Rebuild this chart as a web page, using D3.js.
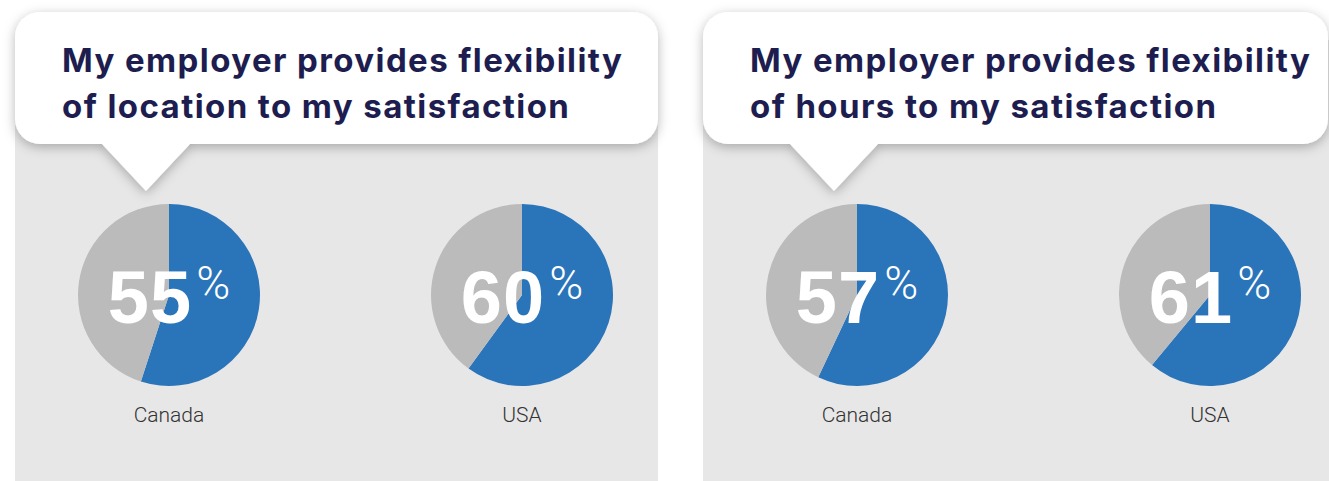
<!DOCTYPE html>
<html>
<head>
<meta charset="utf-8">
<script src="https://cdn.jsdelivr.net/npm/d3@7"></script>
<style>
  html, body { margin: 0; padding: 0; background: #ffffff; }
  svg { display: block; }
</style>
</head>
<body>
<svg id="chart" width="1329" height="481"></svg>
<script>
// Survey results: share of employees satisfied with workplace flexibility
const panelTitles = [
  ["My employer provides flexibility", "of location to my satisfaction"],
  ["My employer provides flexibility", "of hours to my satisfaction"]
];
const countries = ["Canada", "USA"];
const locationValues = [55, 60];
const hoursValues = [57, 61];
const panelValues = [locationValues, hoursValues];

const W = 1329, H = 481;
const svg = d3.select("#chart");

const blue = "#2a74ba";
const rest = "#bbbbbb";
const panelBg = "#e7e7e7";
const titleColor = "#1d1d4f";

// Drop shadow for the speech bubbles
const defs = svg.append("defs");
const f = defs.append("filter").attr("id", "bubbleShadow")
  .attr("x", "-10%").attr("y", "-30%").attr("width", "120%").attr("height", "160%");
f.append("feDropShadow").attr("dx", 0).attr("dy", 3)
  .attr("stdDeviation", 6).attr("flood-color", "#000").attr("flood-opacity", 0.28);

// Panel placement
const panelX = d3.scaleOrdinal().domain([0, 1]).range([15, 703]);
const panelW = [643, 640];
const pieX = d3.scalePoint().domain(countries).range([154, 507]);
const pieY = 295;
const radius = 91;

const pie = d3.pie().sort(null).value(d => d.v);
const arc = d3.arc().innerRadius(0).outerRadius(radius);

function bubblePath(x0, y0, x1, y1, r, pL, pR, tipX, tipY) {
  const p = d3.path();
  p.moveTo(x0 + r, y0);
  p.lineTo(x1 - r, y0);
  p.arcTo(x1, y0, x1, y0 + r, r);
  p.lineTo(x1, y1 - r);
  p.arcTo(x1, y1, x1 - r, y1, r);
  p.lineTo(pR, y1);
  p.lineTo(tipX, tipY);
  p.lineTo(pL, y1);
  p.lineTo(x0 + r, y1);
  p.arcTo(x0, y1, x0, y1 - r, r);
  p.lineTo(x0, y0 + r);
  p.arcTo(x0, y0, x0 + r, y0, r);
  p.closePath();
  return p.toString();
}

panelValues.forEach((vals, i) => {
  const g = svg.append("g").attr("transform", `translate(${panelX(i)},0)`);

  // grey card
  g.append("rect").attr("x", 0).attr("y", 40)
    .attr("width", panelW[i]).attr("height", H - 40).attr("fill", panelBg);

  // pies
  countries.forEach((c, j) => {
    const v = vals[j];
    const pg = g.append("g").attr("transform", `translate(${pieX(c)},${pieY})`);
    pg.selectAll("path")
      .data(pie([{ k: "yes", v: v }, { k: "no", v: 100 - v }]))
      .join("path")
      .attr("d", arc)
      .attr("fill", d => d.data.k === "yes" ? blue : rest);

    const t = pg.append("text")
      .attr("text-anchor", "middle")
      .attr("y", 28)
      .attr("fill", "#ffffff")
      .style("font-family", "'Liberation Sans', Arial, Helvetica, sans-serif");
    t.append("tspan")
      .style("font-size", "74px").style("font-weight", "bold")
      .style("letter-spacing", "1px")
      .text(v);
    t.append("tspan")
      .attr("dx", 4).attr("dy", -24)
      .style("font-size", "46px").style("font-weight", "300")
      .style("font-family", "Roboto, 'Liberation Sans', sans-serif")
      .text("%");

    g.append("text")
      .attr("x", pieX(c)).attr("y", 422)
      .attr("text-anchor", "middle")
      .attr("fill", "#333333")
      .style("font-family", "Roboto, 'Liberation Sans', sans-serif")
      .style("font-weight", "300")
      .style("font-size", "21px")
      .text(c);
  });

  // speech bubble with title
  const bx1 = i === 0 ? 643 : 625;
  g.append("path")
    .attr("d", bubblePath(0, 12, bx1, 144, 25, 87, 175, 131, 191))
    .attr("fill", "#ffffff")
    .attr("filter", "url(#bubbleShadow)");

  const tt = g.append("text")
    .attr("fill", titleColor)
    .style("font-family", "Inter, 'Liberation Sans', Arial, sans-serif")
    .style("font-weight", "700")
    .style("font-size", "33px");
  panelTitles[i].forEach((line, k) => {
    tt.append("tspan").attr("x", 47).attr("y", 72 + k * 46).text(line);
  });

  // spread the first title line to span the bubble's text width
  const first = tt.select("tspan").node();
  const len = first.getComputedTextLength();
  const ls = (560 - len) / (panelTitles[i][0].length - 1);
  tt.style("letter-spacing", ls.toFixed(2) + "px");
});
</script>
</body>
</html>
